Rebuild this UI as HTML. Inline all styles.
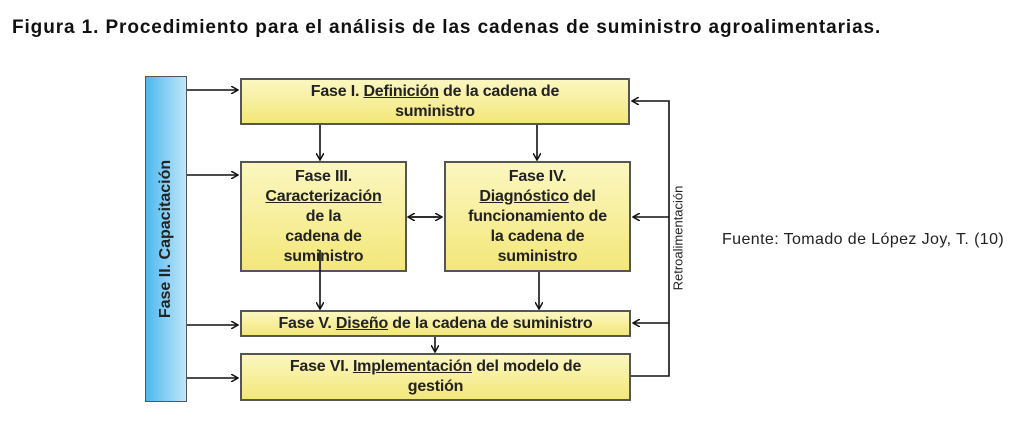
<!DOCTYPE html>
<html><head><meta charset="utf-8"><style>
body{margin:0;width:1024px;height:441px;background:#fff;position:relative;overflow:hidden;font-family:"Liberation Sans",sans-serif}
.t{position:absolute;left:12px;top:17px;font-size:19px;letter-spacing:0.9px;font-weight:bold;color:#111;white-space:nowrap}
.b{position:absolute;background:linear-gradient(#fbf7c0,#f3e77a);border:2px solid #555;box-sizing:border-box;text-align:center;font-weight:bold;font-size:16px;line-height:20px;color:#222;white-space:nowrap;letter-spacing:-0.2px}
u{text-decoration:underline}
.f{position:absolute;left:722px;top:231px;font-size:16px;letter-spacing:0.4px;color:#222;white-space:nowrap}
</style></head><body>
<div class="t">Figura 1. Procedimiento para el análisis de las cadenas de suministro agroalimentarias.</div>
<div style="position:absolute;left:145px;top:76px;width:42px;height:326px;background:linear-gradient(90deg,#4fb8ee,#bfe6fa);border:1px solid #555;box-sizing:border-box"></div>
<div style="position:absolute;left:166px;top:239px;transform:translate(-50%,-50%) rotate(-90deg);font-weight:bold;font-size:16px;white-space:nowrap;color:#222">Fase II. Capacitación</div>
<div class="b" style="left:240px;top:78px;width:390px;height:47px;padding-top:2px">Fase I. <u>Definición</u> de la cadena de<br>suministro</div>
<div class="b" style="left:240px;top:161px;width:167px;height:111px;padding-top:4px">Fase III.<br><u>Caracterización</u><br>de la<br>cadena de<br>suministro</div>
<div class="b" style="left:444px;top:161px;width:187px;height:111px;padding-top:4px">Fase IV.<br><u>Diagnóstico</u> del<br>funcionamiento de<br>la cadena de<br>suministro</div>
<div class="b" style="left:240px;top:310px;width:391px;height:27px;padding-top:2px">Fase V. <u>Diseño</u> de la cadena de suministro</div>
<div class="b" style="left:240px;top:353px;width:391px;height:48px;padding-top:2px">Fase VI. <u>Implementación</u> del modelo de<br>gestión</div>
<div style="position:absolute;left:678px;top:238px;transform:translate(-50%,-50%) rotate(-90deg);font-size:13px;white-space:nowrap;color:#222">Retroalimentación</div>
<svg width="1024" height="441" style="position:absolute;left:0;top:0">
<defs><marker id="a" markerWidth="8" markerHeight="8" refX="7" refY="4" orient="auto" markerUnits="userSpaceOnUse"><path d="M0,0L7,4L0,8" fill="none" stroke="#111" stroke-width="1.5"/></marker></defs>
<g stroke="#111" stroke-width="1.6" fill="none">
<line x1="187" y1="90" x2="238" y2="90" marker-end="url(#a)"/>
<line x1="187" y1="175" x2="238" y2="175" marker-end="url(#a)"/>
<line x1="187" y1="325" x2="238" y2="325" marker-end="url(#a)"/>
<line x1="187" y1="378" x2="238" y2="378" marker-end="url(#a)"/>
<line x1="320" y1="125" x2="320" y2="160" marker-end="url(#a)"/>
<line x1="537" y1="125" x2="537" y2="160" marker-end="url(#a)"/>
<line x1="320" y1="250" x2="320" y2="309" marker-end="url(#a)"/>
<line x1="539" y1="272" x2="539" y2="309" marker-end="url(#a)"/>
<line x1="435" y1="337" x2="435" y2="352" marker-end="url(#a)"/>
<line x1="412" y1="217" x2="442" y2="217" marker-end="url(#a)"/>
<line x1="438" y1="217" x2="408" y2="217" marker-end="url(#a)"/>
<polyline points="631,376 669,376 669,101 632,101" marker-end="url(#a)"/>
<line x1="669" y1="217" x2="633" y2="217" marker-end="url(#a)"/>
<line x1="669" y1="323" x2="633" y2="323" marker-end="url(#a)"/>
</g></svg>
<div class="f">Fuente: Tomado de López Joy, T. (10)</div>
</body></html>
